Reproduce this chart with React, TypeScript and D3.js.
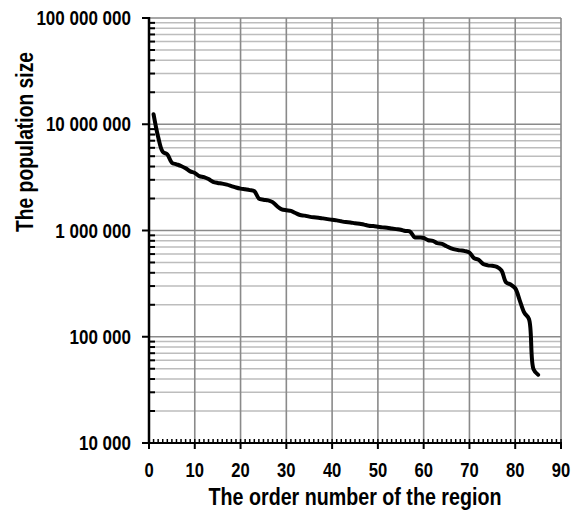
import React, { useEffect, useRef } from 'react';
import * as d3 from 'd3';

// population of regions, sorted descending
const population: number[] = [
  12400000, 7600000, 5500000, 5200000, 4350000, 4200000, 4050000, 3850000, 3600000, 3480000,
  3250000, 3180000, 3050000, 2870000, 2800000, 2760000, 2700000, 2620000, 2540000, 2480000,
  2440000, 2400000, 2350000, 2000000, 1950000, 1920000, 1850000, 1690000, 1580000, 1550000,
  1530000, 1460000, 1400000, 1380000, 1350000, 1330000, 1320000, 1300000, 1280000, 1260000,
  1245000, 1220000, 1200000, 1190000, 1170000, 1160000, 1135000, 1110000, 1100000, 1085000,
  1070000, 1060000, 1045000, 1030000, 1015000, 990000, 980000, 865000, 860000, 850000,
  810000, 800000, 760000, 750000, 710000, 680000, 660000, 650000, 640000, 620000,
  550000, 530000, 485000, 470000, 465000, 455000, 420000, 325000, 310000, 286000,
  219000, 168000, 147000, 49500, 43900,
];
const orderNumbers: number[] = population.map((_, i) => i + 1);

const xTicks = [0, 10, 20, 30, 40, 50, 60, 70, 80, 90];
const yTicks = [10000, 100000, 1000000, 10000000, 100000000];

const xTitle = 'The order number of the region';
const yTitle = 'The population size';

const App: React.FC = () => {
  const svgRef = useRef<SVGSVGElement>(null);

  useEffect(() => {
    if (!svgRef.current) return;
    const width = 577;
    const height = 511;
    const margin = { top: 18, right: 16, bottom: 68, left: 149 };

    const svg = d3.select(svgRef.current);
    svg.selectAll('*').remove();
    svg.attr('width', width).attr('height', height);

    svg.append('rect').attr('width', width).attr('height', height).attr('fill', '#fff');

    const x = d3.scaleLinear().domain([0, 90]).range([margin.left, width - margin.right]);
    const y = d3.scaleLog().domain([1e4, 1e8]).range([height - margin.bottom, margin.top]);

    const font = 'Liberation Sans, Arial, sans-serif';
    const fmt = (v: number) => d3.format(',')(v).replace(/,/g, ' ');

    // minor horizontal grid
    const minor: number[] = [];
    for (let d = 1e4; d < 1e8; d *= 10) {
      for (let k = 2; k <= 9; k++) minor.push(d * k);
    }
    svg.append('g')
      .selectAll('line')
      .data(minor)
      .enter()
      .append('line')
      .attr('x1', x(0)).attr('x2', x(90))
      .attr('y1', d => y(d)).attr('y2', d => y(d))
      .attr('stroke', '#bdbdbd')
      .attr('stroke-width', 1.5);

    // major grid
    svg.append('g')
      .selectAll('line')
      .data(yTicks)
      .enter()
      .append('line')
      .attr('x1', x(0)).attr('x2', x(90))
      .attr('y1', d => y(d)).attr('y2', d => y(d))
      .attr('stroke', '#8a8a8a')
      .attr('stroke-width', 1.6);
    svg.append('g')
      .selectAll('line')
      .data(xTicks.slice(1))
      .enter()
      .append('line')
      .attr('x1', d => x(d)).attr('x2', d => x(d))
      .attr('y1', y(1e8)).attr('y2', y(1e4))
      .attr('stroke', '#8a8a8a')
      .attr('stroke-width', 1.6);

    // x axis
    const xMinor = d3.range(0, 91);
    svg.append('g')
      .selectAll('line')
      .data(xMinor)
      .enter()
      .append('line')
      .attr('x1', d => x(d)).attr('x2', d => x(d))
      .attr('y1', y(1e4) - 4).attr('y2', y(1e4))
      .attr('stroke', '#000')
      .attr('stroke-width', 1.5);
    svg.append('g')
      .selectAll('line')
      .data(xTicks)
      .enter()
      .append('line')
      .attr('x1', d => x(d)).attr('x2', d => x(d))
      .attr('y1', y(1e4)).attr('y2', y(1e4) + 6)
      .attr('stroke', '#000')
      .attr('stroke-width', 2);
    svg.append('line')
      .attr('x1', x(0) - 1).attr('x2', x(90) + 1)
      .attr('y1', y(1e4)).attr('y2', y(1e4))
      .attr('stroke', '#000').attr('stroke-width', 2.2);

    // y axis
    svg.append('g')
      .selectAll('line')
      .data(minor)
      .enter()
      .append('line')
      .attr('x1', x(0)).attr('x2', x(0) + 6)
      .attr('y1', d => y(d)).attr('y2', d => y(d))
      .attr('stroke', '#000')
      .attr('stroke-width', 2);
    svg.append('g')
      .selectAll('line')
      .data(yTicks)
      .enter()
      .append('line')
      .attr('x1', x(0) - 7).attr('x2', x(0))
      .attr('y1', d => y(d)).attr('y2', d => y(d))
      .attr('stroke', '#000')
      .attr('stroke-width', 2);
    svg.append('line')
      .attr('x1', x(0)).attr('x2', x(0))
      .attr('y1', y(1e8) - 1).attr('y2', y(1e4) + 1)
      .attr('stroke', '#000').attr('stroke-width', 2.5);

    // tick labels
    yTicks.forEach(t => {
      svg.append('g')
        .attr('transform', `translate(${x(0) - 18},${y(t) + 7}) scale(0.83,1)`)
        .append('text')
        .attr('text-anchor', 'end')
        .attr('font-family', font)
        .attr('font-weight', 'bold')
        .attr('font-size', 20.5)
        .text(fmt(t));
    });
    xTicks.forEach(t => {
      svg.append('g')
        .attr('transform', `translate(${x(t)},${y(1e4) + 34}) scale(0.83,1)`)
        .append('text')
        .attr('text-anchor', 'middle')
        .attr('font-family', font)
        .attr('font-weight', 'bold')
        .attr('font-size', 20)
        .text(t);
    });

    // titles
    svg.append('g')
      .attr('transform', `translate(355,505) scale(0.82,1)`)
      .append('text')
      .attr('text-anchor', 'middle')
      .attr('font-family', font)
      .attr('font-weight', 'bold')
      .attr('font-size', 24)
      .text(xTitle);
    svg.append('g')
      .attr('transform', `translate(33,142) rotate(-90) scale(0.84,1)`)
      .append('text')
      .attr('text-anchor', 'middle')
      .attr('font-family', font)
      .attr('font-weight', 'bold')
      .attr('font-size', 23)
      .text(yTitle);

    // data line
    const line = d3.line<number>()
      .x((_, i) => x(orderNumbers[i]))
      .y(d => y(d))
      .curve(d3.curveCatmullRom.alpha(0.5));
    svg.append('path')
      .datum(population)
      .attr('d', line)
      .attr('fill', 'none')
      .attr('stroke', '#000')
      .attr('stroke-width', 4)
      .attr('stroke-linejoin', 'round')
      .attr('stroke-linecap', 'round');
  }, []);

  return (
    <div style={{ position: 'absolute', left: 0, top: 0 }}>
      <svg ref={svgRef}></svg>
    </div>
  );
};

export default App;
